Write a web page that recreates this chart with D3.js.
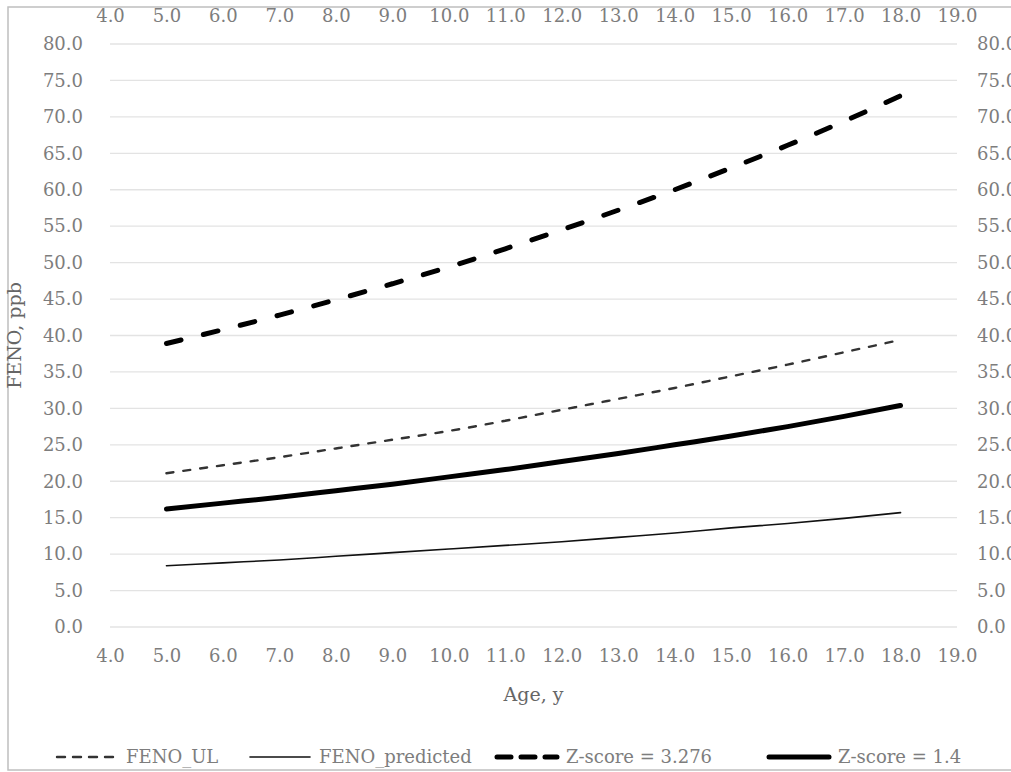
<!DOCTYPE html>
<html>
<head>
<meta charset="utf-8">
<script src="https://cdn.jsdelivr.net/npm/d3@7"></script>
<style>
  body { margin: 0; background: #fff; }
  text { font-family: "DejaVu Serif", serif; }
</style>
</head>
<body>
<div id="chart-area"></div>
<script>
const MARGIN = { LEFT: 110, RIGHT: 54, TOP: 44, BOTTOM: 145 }
const W = 1011, H = 772
const WIDTH = W - MARGIN.LEFT - MARGIN.RIGHT
const HEIGHT = H - MARGIN.TOP - MARGIN.BOTTOM

// Data
const ages = [5, 6, 7, 8, 9, 10, 11, 12, 13, 14, 15, 16, 17, 18]
const fenoUL = [21.1, 22.2, 23.3, 24.5, 25.7, 26.9, 28.3, 29.8, 31.3, 32.8, 34.4, 36.0, 37.7, 39.4]
const fenoPredicted = [8.4, 8.8, 9.2, 9.7, 10.2, 10.7, 11.2, 11.7, 12.3, 12.9, 13.6, 14.2, 14.9, 15.7]
const z3276 = [38.9, 40.8, 42.8, 44.9, 47.1, 49.4, 51.9, 54.5, 57.2, 60.0, 63.0, 66.1, 69.4, 72.9]
const z14 = [16.2, 17.0, 17.8, 18.7, 19.6, 20.6, 21.6, 22.7, 23.8, 25.0, 26.2, 27.5, 28.9, 30.4]
const xTicks = d3.range(4, 20, 1)
const yTicks = d3.range(0, 81, 5)

const series = [
  { name: "FENO_UL", values: fenoUL, width: 2.4, dash: "7,10", color: "#333" },
  { name: "FENO_predicted", values: fenoPredicted, width: 1.6, dash: null, color: "#111" },
  { name: "Z-score = 3.276", values: z3276, width: 5, dash: "15,23", color: "#000" },
  { name: "Z-score = 1.4", values: z14, width: 5, dash: null, color: "#000" }
]

const svg = d3.select("#chart-area").append("svg")
  .attr("width", W)
  .attr("height", H)

// chart frame
svg.append("rect")
  .attr("x", 8).attr("y", 7)
  .attr("width", 1030).attr("height", 763)
  .attr("fill", "none")
  .attr("stroke", "#bfbfbf")
  .attr("stroke-width", 1.5)

const g = svg.append("g")
  .attr("transform", `translate(${MARGIN.LEFT}, ${MARGIN.TOP})`)

const x = d3.scaleLinear().domain([4, 19]).range([0, WIDTH])
const y = d3.scaleLinear().domain([0, 80]).range([HEIGHT, 0])

// gridlines
g.append("g")
  .selectAll("line")
  .data(yTicks)
  .enter().append("line")
  .attr("x1", 0).attr("x2", WIDTH)
  .attr("y1", d => y(d)).attr("y2", d => y(d))
  .attr("stroke", "#e3e3e3")
  .attr("stroke-width", 1.3)

function styleAxis(sel) {
  sel.select(".domain").remove()
  sel.selectAll(".tick line").remove()
  sel.selectAll(".tick text")
    .attr("fill", "#7d7d7d")
    .style("font-size", "18px")
    .style("font-family", "DejaVu Serif")
}

const fmt = d3.format(".1f")

g.append("g")
  .attr("transform", `translate(0, ${HEIGHT})`)
  .call(d3.axisBottom(x).tickValues(xTicks).tickFormat(fmt).tickSize(0).tickPadding(22))
  .call(styleAxis)

g.append("g")
  .call(d3.axisTop(x).tickValues(xTicks).tickFormat(fmt).tickSize(0).tickPadding(22))
  .call(styleAxis)

g.append("g")
  .call(d3.axisLeft(y).tickValues(yTicks).tickFormat(fmt).tickSize(0).tickPadding(27))
  .call(styleAxis)

g.append("g")
  .attr("transform", `translate(${WIDTH}, 0)`)
  .call(d3.axisRight(y).tickValues(yTicks).tickFormat(fmt).tickSize(0).tickPadding(20))
  .call(styleAxis)

// axis titles
g.append("text")
  .attr("x", WIDTH / 2)
  .attr("y", HEIGHT + 74)
  .attr("text-anchor", "middle")
  .attr("fill", "#666")
  .attr("font-size", "19px")
  .text("Age, y")

g.append("text")
  .attr("transform", "rotate(-90)")
  .attr("x", -HEIGHT / 2)
  .attr("y", -89)
  .attr("text-anchor", "middle")
  .attr("fill", "#666")
  .attr("font-size", "19px")
  .text("FENO, ppb")

// lines
const line = d3.line()
  .x((d, i) => x(ages[i]))
  .y(d => y(d))
  .curve(d3.curveMonotoneX)

g.selectAll(".series")
  .data(series)
  .enter().append("path")
  .attr("class", "series")
  .attr("d", d => line(d.values))
  .attr("fill", "none")
  .attr("stroke", d => d.color)
  .attr("stroke-width", d => d.width)
  .attr("stroke-dasharray", d => d.dash)
  .attr("stroke-linecap", "round")

// legend
const legendX = [57, 250, 497, 769]
const legendY = 757
const legend = svg.append("g")
series.forEach((s, i) => {
  legend.append("line")
    .attr("x1", legendX[i]).attr("x2", legendX[i] + 60)
    .attr("y1", legendY).attr("y2", legendY)
    .attr("stroke", s.color)
    .attr("stroke-width", s.width)
    .attr("stroke-dasharray", s.dash ? (s.width > 3 ? "14,10" : "8,8") : null)
    .attr("stroke-linecap", "round")
  legend.append("text")
    .attr("x", legendX[i] + 69)
    .attr("y", legendY)
    .attr("dy", "0.35em")
    .attr("fill", "#7d7d7d")
    .attr("font-size", "18px")
    .text(s.name)
})
</script>
</body>
</html>
